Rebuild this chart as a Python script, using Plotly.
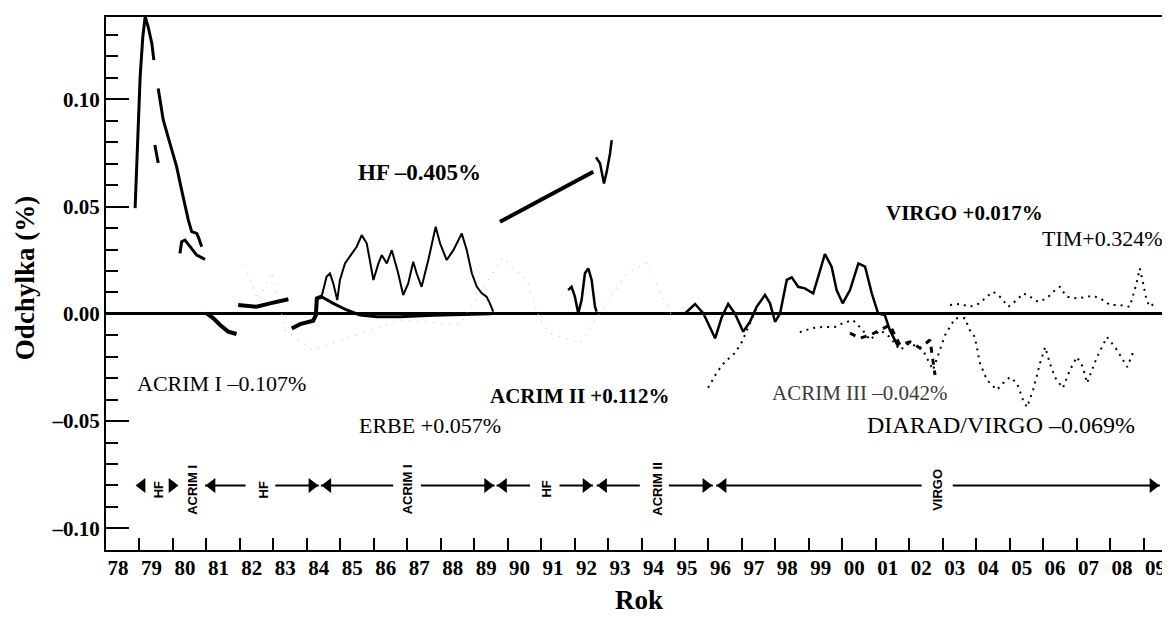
import plotly.graph_objects as go

# ---------------- data (x in years since 1900, y in %) ----------------
year_ticks = list(range(78, 110))
year_labels = ["78", "79", "80", "81", "82", "83", "84", "85", "86", "87", "88",
               "89", "90", "91", "92", "93", "94", "95", "96", "97", "98", "99",
               "00", "01", "02", "03", "04", "05", "06", "07", "08", "09"]
y_major = [-0.10, -0.05, 0.0, 0.05, 0.10]
y_major_text = ["–0.10", "–0.05", "0.00", "0.05", "0.10"]

# HF (Nimbus-7) early peak, two solid pieces with a gap
hf_a_x = [78.87, 78.92, 78.97, 79.02, 79.10, 79.17, 79.26, 79.37, 79.43]
hf_a_y = [0.0493, 0.0717, 0.0919, 0.1105, 0.1292, 0.1385, 0.1338, 0.1261, 0.1183]
hf_b_x = [79.56, 79.71, 79.91, 80.11, 80.26, 80.46, 80.56, 80.71, 80.76, 80.86]
hf_b_y = [0.1051, 0.0904, 0.0795, 0.0686, 0.0577, 0.0437, 0.0383, 0.0375, 0.0358, 0.0313]
hf_dash_x = [79.46, 79.56]
hf_dash_y = [0.0787, 0.0703]
hf_hook_x = [80.21, 80.26, 80.36, 80.51, 80.71, 80.96]
hf_hook_y = [0.0282, 0.0336, 0.0344, 0.0313, 0.0274, 0.0254]

# short thick pieces 1981-1984
acrim1a_x = [81.01, 81.21, 81.41, 81.65, 81.90]
acrim1a_y = [0.0002, -0.0021, -0.0052, -0.0083, -0.0094]
hf_mid_x = [81.95, 82.20, 82.50, 82.90, 83.45]
hf_mid_y = [0.0041, 0.0036, 0.0033, 0.0049, 0.0068]
acrim1b_x = [83.55, 83.80, 84.19, 84.27, 84.30, 84.44]
acrim1b_y = [-0.0068, -0.0048, -0.0032, -0.0006, 0.0072, 0.0080]
decay_x = [84.44, 84.79, 85.19, 85.59, 86.09, 86.78, 87.77, 89.50]
decay_y = [0.0080, 0.0049, 0.0018, -0.0006, -0.0014, -0.0014, -0.0006, 0.0]

# wiggly curve 1984-1989
erbe_x = [84.44, 84.59, 84.69, 84.79, 84.91, 84.99, 85.14, 85.29, 85.49, 85.64,
          85.79, 85.99, 86.14, 86.24, 86.39, 86.54, 86.73, 86.88, 87.03, 87.18,
          87.28, 87.43, 87.63, 87.85, 87.98, 88.18, 88.38, 88.63, 88.78, 88.93,
          89.08, 89.23, 89.37, 89.47, 89.57]
erbe_y = [0.0080, 0.0173, 0.0189, 0.0142, 0.0064, 0.0158, 0.0235, 0.0266, 0.0313, 0.0367,
          0.0329, 0.0158, 0.0235, 0.0274, 0.0235, 0.0297, 0.0189, 0.0088, 0.0142, 0.0243,
          0.0189, 0.0126, 0.0251, 0.0406, 0.0329, 0.0251, 0.0297, 0.0375, 0.0297, 0.0189,
          0.0126, 0.0096, 0.0080, 0.0049, 0.0010]

# HF 1989-1993
hf_line_x = [89.77, 92.56]
hf_line_y = [0.0429, 0.0662]
hf_check_x = [92.64, 92.76, 92.88, 92.96, 93.06, 93.11]
hf_check_y = [0.0730, 0.0702, 0.0608, 0.0662, 0.0748, 0.0810]
hf_bump_x = [91.81, 91.91, 92.01, 92.11, 92.21, 92.31, 92.41, 92.51, 92.61, 92.66]
hf_bump_y = [0.0111, 0.0126, 0.0080, 0.0002, 0.0064, 0.0189, 0.0212, 0.0158, 0.0033, 0.0010]

# ACRIM II solid curve 1995-2001
acrim2_x = [95.10, 95.30, 95.60, 95.85, 96.20, 96.40, 96.59, 96.79, 97.04, 97.24, 97.44,
            97.69, 97.84, 97.99, 98.14, 98.34, 98.49, 98.68, 98.88, 99.13, 99.28,
            99.48, 99.68, 99.83, 100.01, 100.23, 100.48, 100.68, 100.88, 101.07,
            101.27, 101.42, 101.67]
acrim2_y = [0.0, 0.0002, 0.0046, 0.0002, -0.0114, -0.0014, 0.0046, 0.0002, -0.0083, -0.0037,
            0.0033, 0.0088, 0.0049, -0.0037, 0.0002, 0.0158, 0.0170, 0.0126, 0.0119, 0.0096,
            0.0173, 0.0279, 0.0220, 0.0111, 0.0049, 0.0111, 0.0235, 0.0220, 0.0096, 0.0002,
            -0.0006, -0.0076, -0.0153]

# ACRIM III dashed pieces 2000-2003
acrim3_x = [100.23, 100.53, 100.83, 101.13, 101.42, 101.72, 102.02, 102.32, 102.62, 102.77]
acrim3_y = [-0.0090, -0.0113, -0.0099, -0.0076, -0.0052, -0.0145, -0.0131, -0.0159, -0.0122, -0.0285]

# DIARAD/VIRGO dotted
diarad_a_x = [95.99, 96.26, 96.49, 96.79, 97.00, 97.15, 97.30, 97.45]
diarad_a_y = [-0.0345, -0.0271, -0.0224, -0.0183, -0.0131, -0.0076, -0.0015, 0.0032]
diarad_b_x = [98.73, 99.12, 99.42, 99.78, 100.02, 100.32, 100.61, 100.83, 101.13, 101.42,
              101.72, 102.02, 102.41, 102.71, 103.07, 103.37, 103.66, 103.81, 103.96,
              104.11, 104.32, 104.62, 104.80, 105.01, 105.22, 105.40, 105.52, 105.70,
              105.91, 106.06, 106.20, 106.35, 106.59, 106.80, 107.01, 107.19, 107.31,
              107.61, 107.91, 108.21, 108.51, 108.68]
diarad_b_y = [-0.0085, -0.0066, -0.0061, -0.0061, -0.0043, -0.0029, -0.0076, -0.0122, -0.0076,
              -0.0108, -0.0169, -0.0136, -0.0169, -0.0262, -0.0099, -0.0020, -0.0020, -0.0076,
              -0.0108, -0.0229, -0.0308, -0.0355, -0.0323, -0.0295, -0.0323, -0.0402, -0.0435,
              -0.0355, -0.0229, -0.0155, -0.0229, -0.0295, -0.0346, -0.0262, -0.0201, -0.0248,
              -0.0323, -0.0201, -0.0108, -0.0169, -0.0248, -0.0183]

# TIM dotted
tim_x = [103.22, 103.52, 103.81, 104.11, 104.31, 104.51, 104.71, 104.96, 105.21, 105.41,
         105.61, 105.85, 106.11, 106.30, 106.50, 106.70, 107.00, 107.30, 107.50, 107.80,
         108.00, 108.30, 108.59, 108.79, 108.89, 108.99, 109.09, 109.19, 109.39]
tim_y = [0.0041, 0.0046, 0.0033, 0.0049, 0.0080, 0.0103, 0.0080, 0.0033, 0.0064, 0.0096,
         0.0080, 0.0056, 0.0072, 0.0103, 0.0126, 0.0080, 0.0072, 0.0080, 0.0084, 0.0064,
         0.0041, 0.0041, 0.0033, 0.0142, 0.0212, 0.0142, 0.0064, 0.0033, 0.0056]

# faint grey dotted record (ERBE)
faint_x = [82.15, 82.54, 82.96, 83.35, 84.18, 86.78, 88.58, 89.86, 90.22, 90.58,
           90.97, 91.27, 92.16, 93.00, 93.57, 94.16, 94.94]
faint_y = [0.0227, 0.0064, 0.0195, -0.0075, -0.0169, -0.0030, -0.0050, 0.0265, 0.0204, 0.0157,
           -0.0029, -0.0090, -0.0137, 0.0055, 0.0190, 0.0237, -0.0020]

# instrument time bar at -0.08
bar_level = -0.08
bar_seg_start = [80.96, 83.06, 84.42, 87.41, 89.67, 91.55, 92.66, 94.82, 96.23, 103.30]
bar_seg_end = [82.17, 84.36, 86.58, 89.61, 90.67, 92.55, 93.95, 96.13, 102.37, 109.49]
left_tips = [78.87, 80.96, 84.42, 89.67, 92.66, 96.23]
right_tips = [80.18, 84.36, 89.61, 92.55, 96.13, 109.49]
bar_names = ["HF", "ACRIM I", "HF", "ACRIM I", "HF", "ACRIM II", "VIRGO"]
bar_name_x = [79.58, 80.58, 82.69, 87.02, 91.15, 94.47, 102.84]

# curve labels
labels = ["<b>HF –0.405%</b>", "ACRIM I –0.107%", "ERBE +0.057%", "<b>ACRIM II +0.112%</b>",
          "ACRIM III –0.042%", "DIARAD/VIRGO –0.069%", "<b>VIRGO +0.017%</b>", "TIM+0.324%"]
label_x = [87.38, 81.44, 87.68, 92.16, 100.53, 104.74, 103.66, 107.76]
label_y = [0.0657, -0.0323, -0.0519, -0.0383, -0.0369, -0.0519, 0.0469, 0.0353]
label_size = [23, 22, 22, 21, 21, 24, 21, 22]
label_color = ["black", "black", "black", "black", "#3a3a3a", "black", "black", "black"]

# ---------------- figure ----------------
X0, X1 = 78, 110.03
Y0, Y1 = -0.1101, 0.1384
SERIF = "Liberation Serif"
fig = go.Figure()


def add_line(x, y, width, dash="solid", color="black"):
    fig.add_trace(go.Scatter(x=x, y=y, mode="lines", showlegend=False, hoverinfo="skip",
                             line=dict(color=color, width=width, dash=dash)))


add_line(faint_x, faint_y, 1.2, "1px,7px", "#c4c4c4")
add_line(hf_a_x, hf_a_y, 3)
add_line(hf_b_x, hf_b_y, 3)
add_line(hf_dash_x, hf_dash_y, 3)
add_line(hf_hook_x, hf_hook_y, 3)
add_line(acrim1a_x, acrim1a_y, 4)
add_line(hf_mid_x, hf_mid_y, 4)
add_line(acrim1b_x, acrim1b_y, 4)
add_line(decay_x, decay_y, 3)
add_line(erbe_x, erbe_y, 2)
add_line(hf_line_x, hf_line_y, 4)
add_line(hf_check_x, hf_check_y, 2.5)
add_line(hf_bump_x, hf_bump_y, 2.5)
add_line(acrim2_x, acrim2_y, 2.5)
add_line(diarad_a_x, diarad_a_y, 2, "2px,5px")
add_line(diarad_b_x, diarad_b_y, 2, "2px,5px")
add_line(tim_x, tim_y, 2, "2px,5px")
add_line(acrim3_x, acrim3_y, 3, "6px,6px")

# instrument bar
for xs, xe in zip(bar_seg_start, bar_seg_end):
    add_line([xs, xe], [bar_level, bar_level], 2)
tip_off = 7 / 33.47
fig.add_trace(go.Scatter(x=[t + tip_off for t in left_tips], y=[bar_level] * len(left_tips),
                         mode="markers", showlegend=False, hoverinfo="skip",
                         marker=dict(symbol="triangle-left", size=13, color="black")))
fig.add_trace(go.Scatter(x=[t - tip_off for t in right_tips], y=[bar_level] * len(right_tips),
                         mode="markers", showlegend=False, hoverinfo="skip",
                         marker=dict(symbol="triangle-right", size=13, color="black")))
for name, nx in zip(bar_names, bar_name_x):
    fig.add_annotation(x=nx, y=bar_level, text=f"<b>{name}</b>", textangle=-90,
                       showarrow=False, yshift=-4,
                       font=dict(family="Liberation Sans", size=13, color="black"))

for t, lx, ly, s, c in zip(labels, label_x, label_y, label_size, label_color):
    fig.add_annotation(x=lx, y=ly, text=t, showarrow=False,
                       font=dict(family=SERIF, size=s, color=c))

fig.add_annotation(xref="paper", yref="paper", x=-0.0756, y=0.51, xanchor="center",
                   yanchor="middle", text="<b>Odchylka (%)</b>", textangle=-90,
                   showarrow=False, font=dict(family=SERIF, size=27, color="black"))
fig.add_annotation(xref="paper", yref="paper", x=0.497, y=-0.0938, xanchor="center",
                   yanchor="middle", text="<b>Rok</b>", showarrow=False,
                   font=dict(family=SERIF, size=27, color="black"))

tickfont = dict(family=SERIF, size=21, color="black", weight="bold")
fig.update_layout(
    width=1170, height=625, margin=dict(l=98, r=0, t=9, b=83),
    plot_bgcolor="white", paper_bgcolor="white", showlegend=False,
    xaxis=dict(range=[X0, X1], tickmode="array", tickvals=year_ticks, ticktext=year_labels,
               ticklabelshift=12, ticklabelstandoff=-2,
               ticks="inside", ticklen=12, tickwidth=2, tickcolor="black",
               showline=True, linewidth=2, linecolor="black", mirror=True,
               showgrid=False, zeroline=False, tickfont=tickfont),
    yaxis=dict(range=[Y0, Y1], tickmode="array", tickvals=y_major, ticktext=y_major_text,
               ticks="inside", ticklen=23, tickwidth=2, tickcolor="black",
               minor=dict(tickmode="linear", tick0=0, dtick=0.01, ticks="inside", ticklen=12,
                          tickwidth=2, tickcolor="black", showgrid=False),
               showline=True, linewidth=2, linecolor="black", mirror=False, showgrid=False,
               zeroline=True, zerolinecolor="black", zerolinewidth=2.5, tickfont=tickfont),
    yaxis2=dict(range=[Y0, Y1], overlaying="y", side="right", anchor="x",
                tickmode="array", tickvals=y_major, showticklabels=False,
                ticks="inside", ticklen=23, tickwidth=2, tickcolor="black",
                minor=dict(tickmode="linear", tick0=0, dtick=0.01, ticks="inside", ticklen=12,
                           tickwidth=2, tickcolor="black", showgrid=False),
                showline=False, showgrid=False, zeroline=False),
)

fig.write_html("out.html")
